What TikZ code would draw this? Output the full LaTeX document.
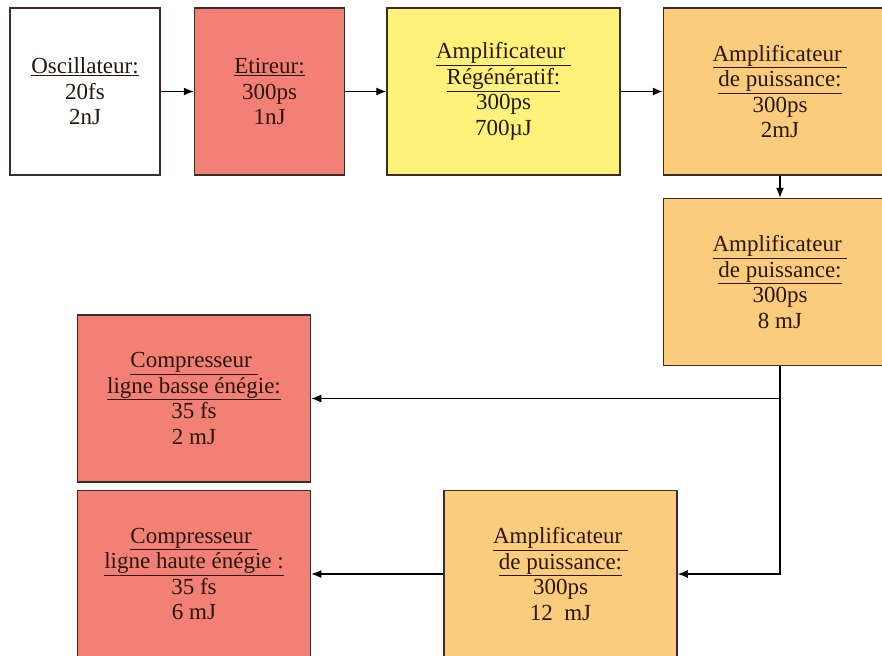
\documentclass[tikz,border=0pt]{standalone}
\usepackage{fontspec}
\setmainfont{Liberation Serif}
\usetikzlibrary{arrows.meta, positioning}
\definecolor{saumon}{RGB}{243,128,117}
\definecolor{jaune}{RGB}{255,242,122}
\definecolor{orange}{RGB}{250,204,124}
\definecolor{bord}{RGB}{60,45,40}
\definecolor{texte}{RGB}{40,22,12}
\tikzstyle{bloc} = [rectangle, inner sep=0pt, text centered, align=center, draw=bord, line width=1.5pt, text=texte, font=\fontsize{23}{25.5}\selectfont]
\tikzstyle{petit} = [bloc, minimum width=150pt, minimum height=167pt]
\tikzstyle{grand} = [bloc, minimum width=233pt, minimum height=167pt]
\tikzstyle{arrow} = [line width=1.3pt, -{Latex[length=10pt,width=8pt]}]

\begin{document}
\begin{tikzpicture}[x=1pt, y=-1pt]
\clip (0,0) rectangle (882,655);
\fill[white] (0,0) rectangle (882,655);

\node (osc)   [petit, fill=white] at (85,91.5) {\underline{Oscillateur:}\\20fs\\2nJ};
\node (etir)  [petit, fill=saumon, right=33pt of osc] {\underline{Etireur:}\\300ps\\1nJ};
\node (regen) [grand, fill=jaune, right=41pt of etir] {\underline{Amplificateur\ }\\\underline{Régénératif:}\\300ps\\700µJ};
\node (ampa)  [grand, fill=orange, right=42pt of regen] {\underline{Amplificateur\ }\\\underline{de puissance:}\\300ps\\2mJ};
\node (ampb)  [grand, fill=orange, below=22pt of ampa] {\underline{Amplificateur\ }\\\underline{de puissance:}\\300ps\\8 mJ};
\node (compb) [grand, fill=saumon] at (194,398.5) {\underline{Compresseur\ }\\\underline{ligne basse énégie:}\\35 fs\\2 mJ};
\node (comph) [grand, fill=saumon, below=7pt of compb] {\underline{Compresseur\ }\\\underline{ligne haute énégie :}\\35 fs\\6 mJ};
\node (ampc)  [grand, fill=orange, right=132pt of comph] {\underline{Amplificateur\ }\\\underline{de puissance:}\\300ps\\12~ mJ};

% chaine principale
\draw [arrow] (osc) -- (etir);
\draw [arrow] (etir) -- (regen);
\draw [arrow] (regen) -- (ampa);
\draw [arrow] (ampa) -- (ampb);

% sorties vers les compresseurs
\draw [arrow] (ampb.south) |- (compb.east);
\draw [arrow] (ampb.south) |- (ampc.east);
\draw [arrow] (ampc) -- (comph);

\end{tikzpicture}
\end{document}
